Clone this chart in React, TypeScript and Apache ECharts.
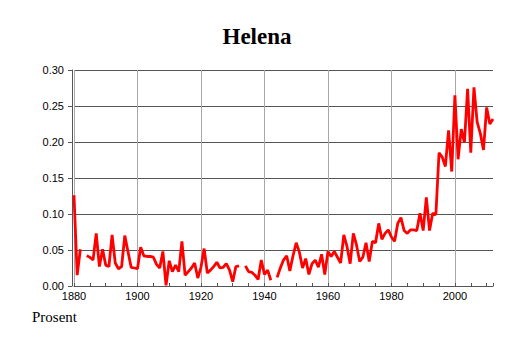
import React, { useEffect, useRef } from "react";
import * as echarts from "echarts";

const titleText = "Helena";
const unitLabel = "Prosent";

const years: number[] = [];
for (let y = 1880; y <= 2012; y++) years.push(y);

const values: (number | null)[] = [
  // 1880-1889
  0.126, 0.015, 0.051, null, 0.042, 0.040, 0.036, 0.073, 0.027, 0.051,
  // 1890-1899
  0.029, 0.027, 0.071, 0.032, 0.024, 0.027, 0.070, 0.048, 0.026, 0.025,
  // 1900-1909
  0.024, 0.054, 0.042, 0.041, 0.041, 0.040, 0.030, 0.025, 0.048, 0.001,
  // 1910-1919
  0.035, 0.020, 0.029, 0.020, 0.062, 0.015, 0.020, 0.025, 0.032, 0.011,
  // 1920-1929
  0.026, 0.052, 0.018, 0.022, 0.027, 0.033, 0.025, 0.026, 0.031, 0.022,
  // 1930-1939
  0.006, 0.027, 0.028, null, 0.028, 0.020, 0.019, 0.015, 0.009, 0.036,
  // 1940-1949
  0.016, 0.022, 0.008, null, 0.012, 0.025, 0.036, 0.042, 0.021, 0.042,
  // 1950-1959
  0.060, 0.047, 0.025, 0.038, 0.016, 0.031, 0.036, 0.026, 0.044, 0.016,
  // 1960-1969
  0.048, 0.041, 0.048, 0.040, 0.032, 0.071, 0.055, 0.031, 0.073, 0.057,
  // 1970-1979
  0.034, 0.040, 0.060, 0.034, 0.062, 0.060, 0.087, 0.065, 0.073, 0.078,
  // 1980-1989
  0.068, 0.062, 0.087, 0.095, 0.077, 0.073, 0.078, 0.078, 0.077, 0.101,
  // 1990-1999
  0.077, 0.123, 0.077, 0.101, 0.099, 0.185, 0.179, 0.166, 0.216, 0.159,
  // 2000-2009
  0.265, 0.176, 0.218, 0.199, 0.274, 0.185, 0.276, 0.228, 0.212, 0.189,
  // 2010-2012
  0.248, 0.225, 0.232,
];

const xMin = 1880;
const xMax = 2012;
const xStep = 20;
const xMinorStep = 5;
const yMin = 0;
const yMax = 0.3;
const yStep = 0.05;

export default function App() {
  const ref = useRef<HTMLDivElement>(null);

  useEffect(() => {
    if (!ref.current) return;
    const chart = echarts.init(ref.current, undefined, { renderer: "svg" });
    const data = years.map((y, i) => [y, values[i]]);
    const gridBox = { left: 74, right: 21, top: 70, bottom: 57 };
    chart.setOption({
      animation: false,
      backgroundColor: "#ffffff",
      title: {
        text: titleText,
        left: "center",
        top: 20,
        textStyle: {
          fontFamily: "Liberation Serif",
          fontWeight: "bold",
          fontSize: 23,
          color: "#000",
        },
      },
      graphic: [
        {
          type: "text",
          left: 32,
          top: 309,
          style: {
            text: unitLabel,
            fontFamily: "Liberation Serif",
            fontSize: 15,
            fill: "#000",
          },
        },
      ],
      grid: [
        { ...gridBox, containLabel: false },
        { ...gridBox, containLabel: false },
      ],
      xAxis: [
        {
          type: "value",
          gridIndex: 0,
          min: xMin,
          max: xMax,
          interval: xStep,
          axisLine: { show: true, lineStyle: { color: "#555", width: 1 } },
          axisTick: { show: false },
          axisLabel: {
            show: true,
            margin: 4,
            showMaxLabel: false,
            fontFamily: "Liberation Sans",
            fontSize: 11,
            color: "#000",
            formatter: (v: number) => String(v),
          },
          splitLine: {
            show: true,
            showMaxLine: false,
            showMinLine: true,
            lineStyle: { color: "#a8a8a8", width: 1 },
          },
        },
        {
          type: "value",
          gridIndex: 1,
          min: xMin,
          max: xMax,
          interval: xMinorStep,
          axisLine: { show: false },
          axisTick: {
            show: true,
            inside: true,
            length: 3,
            lineStyle: { color: "#555", width: 1 },
          },
          axisLabel: { show: false },
          splitLine: { show: false },
        },
      ],
      yAxis: [
        {
          type: "value",
          gridIndex: 0,
          min: yMin,
          max: yMax,
          interval: yStep,
          offset: 2,
          axisLine: { show: true, lineStyle: { color: "#555", width: 1 } },
          axisTick: {
            show: true,
            length: 4,
            lineStyle: { color: "#555", width: 1 },
          },
          axisLabel: {
            margin: 8,
            fontFamily: "Liberation Sans",
            fontSize: 11,
            color: "#000",
            formatter: (v: number) => v.toFixed(2),
          },
          splitLine: {
            show: true,
            lineStyle: { color: "#555", width: 1 },
          },
        },
        {
          type: "value",
          gridIndex: 1,
          min: yMin,
          max: yMax,
          show: false,
        },
      ],
      series: [
        {
          type: "line",
          xAxisIndex: 0,
          yAxisIndex: 0,
          data,
          showSymbol: false,
          connectNulls: false,
          lineStyle: { color: "#ff0000", width: 2.8 },
          itemStyle: { color: "#ff0000" },
        },
      ],
    });
    return () => chart.dispose();
  }, []);

  return (
    <div
      ref={ref}
      style={{ position: "fixed", left: 0, top: 0, width: 514, height: 343 }}
    />
  );
}
